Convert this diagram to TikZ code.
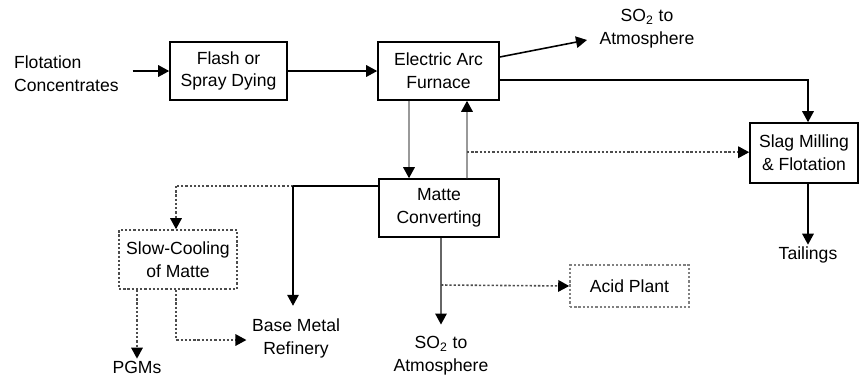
\documentclass[tikz,border=0pt]{standalone}
\usepackage{fontspec}
\setmainfont{Liberation Sans}
\usetikzlibrary{calc, positioning, arrows.meta}
\tikzstyle{unit}=[draw=black, line width=0.9pt, minimum width=2.36cm, minimum height=1.16cm, align=center, inner sep=2pt, font=\fontsize{10}{13}\selectfont]
\tikzstyle{option unit}=[unit, draw=black!70, dash pattern=on 1.3pt off 1.1pt]
\tikzstyle{stream}=[align=center, inner sep=1pt, font=\fontsize{10}{13}\selectfont]
\tikzstyle{flow}=[-{Triangle[length=2.2mm,width=2.3mm,color=black]}, line width=0.9pt]
\tikzstyle{gas flow}=[flow, draw=black!40]
\tikzstyle{option flow}=[flow, draw=black!70, dash pattern=on 1.3pt off 1.1pt]
\tikzstyle{option line}=[line width=0.9pt, draw=black!70, dash pattern=on 1.3pt off 1.1pt]

\begin{document}
\begin{tikzpicture}[x=0.02cm, y=-0.02cm]
		\useasboundingbox (0,0) rectangle (860,376);
		% Draw the process units
		\node[unit, minimum width=2.34cm] (flash) at (228.5,71) {Flash or\\Spray Dying};
		\node[unit, minimum width=2.42cm] (eaf) at (438.5,71) {Electric Arc\\Furnace};
		\node[unit, minimum width=2.4cm] (matte) at (439,208) {Matte\\Converting};
		\node[unit, minimum width=2.16cm, minimum height=1.2cm] (slag) at (804,153) {Slag Milling\\\& Flotation};
		\node[option unit, minimum height=1.18cm] (slow) at (178,259.5) {Slow-Cooling\\of Matte};
		\node[option unit, draw=black!50, minimum width=2.38cm, minimum height=0.84cm] (acid) at (629.5,286) {Acid Plant};

		% Draw the feed and product streams
		\node[stream, align=left, anchor=west] (conc) at (12,73.5) {Flotation\\Concentrates};
		\node[stream] (so2top) at (647,29) {SO\textsubscript{2} to\\Atmosphere};
		\node[stream] (tail) at (808,255) {Tailings};
		\node[stream] (bmr) at (296,338.5) {Base Metal\\Refinery};
		\node[stream] (pgm) at (137,367) {PGMs};
		\node[stream] (so2bot) at (441,356) {SO\textsubscript{2} to\\Atmosphere};

		% Branch points
		\coordinate (so2tip) at (587,40);
		\coordinate (bsplit) at (293,186);
		\coordinate (ssplit) at (176,186);
		\coordinate (mleft) at (matte.west |- bsplit);
		\coordinate (tap) at ($(matte.north)+(28,-26)$);
		\coordinate (acidtap) at (441,285);

		% Connect the main line
		\draw[flow, shorten <=2.4mm] (conc.east |- flash.west) -- (flash.west);
		\draw[flow] (flash) -- (eaf);
		\draw[flow] ($(eaf.east)+(0,-14)$) -- (so2tip);
		\draw[flow] ($(eaf.east)+(0,9)$) -| ($(slag.north)+(4,0)$);
		\draw[gas flow] ($(eaf.south)+(-29.5,0)$) -- ($(matte.north)+(-30,0)$);
		\draw[gas flow] ($(matte.north)+(28,0)$) -- ($(eaf.south)+(28.5,0)$);
		\draw[option flow] (tap) -- (tap -| slag.west);
		\draw[flow] ($(slag.south)+(4,0)$) -- (tail.north);

		% Connect the matte streams
		\draw[line width=0.9pt] (mleft) -- (bsplit);
		\draw[option line] (bsplit) -- (ssplit);
		\draw[option flow] (ssplit) -- (ssplit |- slow.north);
		\draw[flow, shorten >=2.2mm] (bsplit) -- (bsplit |- bmr.north);
		\draw[option flow] ($(slow.south)+(-41,0)$) -- (pgm.north);
		\draw[option flow, shorten >=2pt] ($(slow.south)+(-2,0)$) |- ($(bmr.west)+(0,1.5)$);
		\draw[gas flow, draw=black!60, shorten >=2mm] (matte.south -| so2bot.north) -- (so2bot.north);
		\draw[option flow] (acidtap) -- (acid.west);
	\end{tikzpicture}
\end{document}
